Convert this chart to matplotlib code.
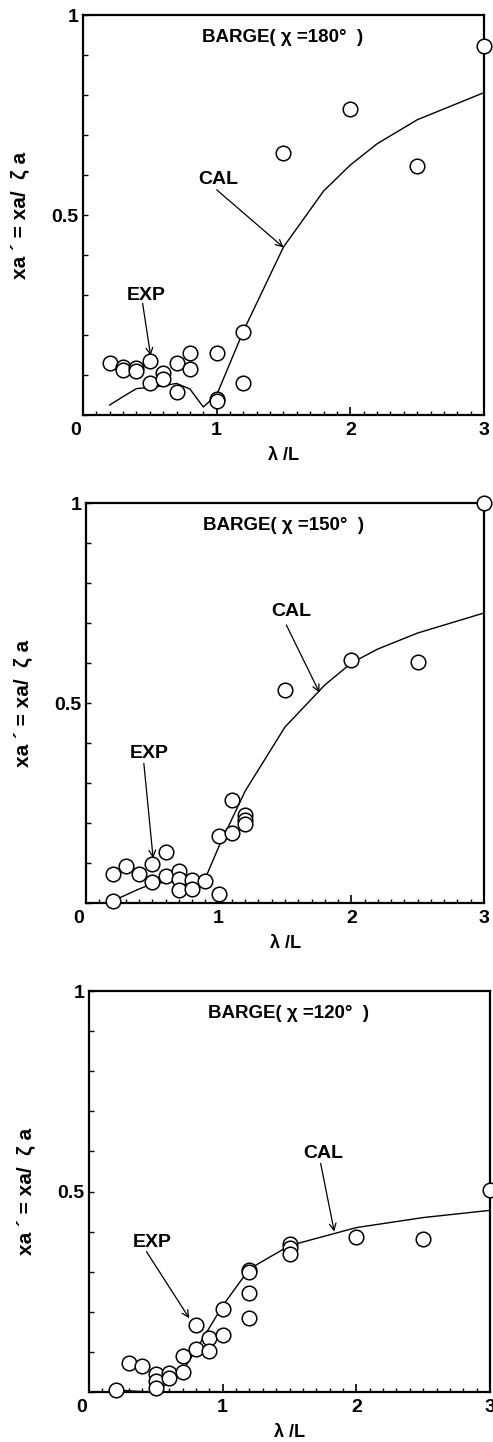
import matplotlib
matplotlib.use("Agg")
import matplotlib.pyplot as plt
import matplotlib.transforms as mtransforms
from matplotlib.ticker import MultipleLocator, FixedLocator

plt.rcParams['font.family'] = ['Liberation Sans', 'DejaVu Sans']

# ---- heading 180 deg ----
lam_180_exp = [0.2, 0.3, 0.3, 0.4, 0.4, 0.5, 0.5, 0.6, 0.6, 0.7, 0.7, 0.8, 0.8,
               1.0, 1.0, 1.0, 1.2, 1.2, 1.5, 2.0, 2.5, 3.0]
xa_180_exp = [0.131, 0.121, 0.112, 0.118, 0.110, 0.135, 0.081, 0.106, 0.090, 0.131, 0.058,
              0.154, 0.114, 0.156, 0.039, 0.034, 0.208, 0.081, 0.656, 0.764, 0.622, 0.922]
lam_180_cal = [0.2, 0.3, 0.4, 0.5, 0.6, 0.7, 0.8, 0.9, 1.0, 1.2, 1.5, 1.8, 2.0, 2.2, 2.5, 3.0]
xa_180_cal = [0.025, 0.046, 0.066, 0.069, 0.073, 0.079, 0.065, 0.020, 0.050, 0.210,
              0.420, 0.560, 0.625, 0.678, 0.738, 0.806]

# ---- heading 150 deg ----
lam_150_exp = [0.2, 0.2, 0.3, 0.4, 0.5, 0.5, 0.6, 0.6, 0.7, 0.7, 0.7, 0.8, 0.8, 0.9,
               1.0, 1.0, 1.1, 1.1, 1.2, 1.2, 1.2, 1.5, 2.0, 2.5, 3.0]
xa_150_exp = [0.073, 0.005, 0.093, 0.073, 0.098, 0.052, 0.127, 0.068, 0.079, 0.060, 0.033,
              0.058, 0.035, 0.056, 0.167, 0.023, 0.258, 0.175, 0.221, 0.208, 0.198,
              0.533, 0.607, 0.602, 1.000]
lam_150_cal = [0.2, 0.3, 0.4, 0.5, 0.6, 0.7, 0.8, 0.9, 1.0, 1.1, 1.2, 1.5, 1.8, 2.0, 2.2, 2.5, 3.0]
xa_150_cal = [0.005, 0.020, 0.035, 0.048, 0.052, 0.056, 0.058, 0.062, 0.140, 0.210, 0.280,
              0.440, 0.545, 0.600, 0.635, 0.675, 0.725]

# ---- heading 120 deg ----
lam_120_exp = [0.2, 0.3, 0.4, 0.5, 0.5, 0.5, 0.6, 0.6, 0.7, 0.7, 0.8, 0.8, 0.9, 0.9,
               1.0, 1.0, 1.2, 1.2, 1.2, 1.2, 1.5, 1.5, 1.5, 2.0, 2.5, 3.0]
xa_120_exp = [0.005, 0.073, 0.066, 0.044, 0.027, 0.011, 0.048, 0.035, 0.050, 0.090,
              0.106, 0.168, 0.135, 0.101, 0.206, 0.143, 0.305, 0.299, 0.248, 0.185,
              0.370, 0.359, 0.345, 0.387, 0.381, 0.503]
lam_120_cal = [0.2, 0.3, 0.45, 0.5, 0.6, 0.7, 0.8, 0.9, 1.0, 1.2, 1.5, 2.0, 2.5, 3.0]
xa_120_cal = [0.005, 0.003, 0.000, 0.005, 0.022, 0.052, 0.105, 0.160, 0.215, 0.307,
              0.365, 0.410, 0.435, 0.453]

headings = ['180', '150', '120']
x_ticks = [0, 1, 2, 3]
x_tick_labels = ['0', '1', '2', '3']
y_ticks = [0, 0.5, 1]
y_tick_labels = ['', '0.5', '1']

panels = [
    dict(exp=(lam_180_exp, xa_180_exp), cal=(lam_180_cal, xa_180_cal),
         rect=[83 / 493, 1 - 415 / 1442, 401 / 493, 400 / 1442],
         cal_txt=(1.01, 0.588), cal_tail=(1.0, 0.563), cal_head=(1.50, 0.419),
         exp_txt=(0.476, 0.300), exp_tail=(0.446, 0.279), exp_head=(0.506, 0.148)),
    dict(exp=(lam_150_exp, xa_150_exp), cal=(lam_150_cal, xa_150_cal),
         rect=[86 / 493, 1 - 903 / 1442, 398 / 493, 400 / 1442],
         cal_txt=(1.55, 0.728), cal_tail=(1.51, 0.695), cal_head=(1.76, 0.526),
         exp_txt=(0.476, 0.374), exp_tail=(0.436, 0.349), exp_head=(0.506, 0.112)),
    dict(exp=(lam_120_exp, xa_120_exp), cal=(lam_120_cal, xa_120_cal),
         rect=[89 / 493, 1 - 1392 / 1442, 401 / 493, 401 / 1442],
         cal_txt=(1.75, 0.595), cal_tail=(1.733, 0.570), cal_head=(1.835, 0.400),
         exp_txt=(0.469, 0.372), exp_tail=(0.43, 0.350), exp_head=(0.75, 0.184)),
]

fig = plt.figure(figsize=(4.93, 14.42), dpi=100)
zero_shift = mtransforms.ScaledTranslation(-7 / 100, 0, fig.dpi_scale_trans)

for hd, p in zip(headings, panels):
    ax = fig.add_axes(p['rect'])
    ax.plot(*p['cal'], color='black', lw=1.0)
    ax.plot(*p['exp'], 'o', ms=10.5, mfc='white', mec='black', mew=1.1,
            clip_on=False, zorder=3)

    ax.set_xlim(0, 3)
    ax.set_ylim(0, 1)
    ax.xaxis.set_major_locator(FixedLocator(x_ticks))
    ax.set_xticklabels(x_tick_labels)
    ax.xaxis.set_minor_locator(MultipleLocator(0.1))
    ax.yaxis.set_major_locator(FixedLocator(y_ticks))
    ax.set_yticklabels(y_tick_labels)
    ax.yaxis.set_minor_locator(MultipleLocator(0.1))
    ax.tick_params(axis='x', which='major', direction='in', length=6, width=1.2,
                   labelsize=14, pad=5)
    ax.tick_params(axis='x', which='minor', direction='in', length=3.2, width=1.0)
    ax.tick_params(axis='y', which='both', direction='in', length=3.8, width=1.0,
                   labelsize=14, pad=3)
    for lab in ax.get_xticklabels() + ax.get_yticklabels():
        lab.set_fontweight('bold')
    first = ax.get_xticklabels()[0]
    first.set_transform(first.get_transform() + zero_shift)
    for s in ax.spines.values():
        s.set_linewidth(1.6)

    ax.set_xlabel('λ /L', fontsize=13, fontweight='bold', labelpad=6)
    ax.set_ylabel('xa ´ = xa/  ζ a', fontsize=15, fontweight='bold', labelpad=16)

    ax.text(1.49, 0.945, 'BARGE( χ =' + hd + '°  )', ha='center', va='center',
            fontsize=13.5, fontweight='bold')

    ax.text(*p['cal_txt'], 'CAL', ha='center', va='center', fontsize=14,
            fontweight='bold')
    ax.annotate('', xy=p['cal_head'], xytext=p['cal_tail'],
                arrowprops=dict(arrowstyle='->', color='black', lw=0.9,
                                mutation_scale=12, shrinkA=0, shrinkB=0))
    ax.text(*p['exp_txt'], 'EXP', ha='center', va='center', fontsize=14,
            fontweight='bold')
    ax.annotate('', xy=p['exp_head'], xytext=p['exp_tail'],
                arrowprops=dict(arrowstyle='->', color='black', lw=0.9,
                                mutation_scale=12, shrinkA=0, shrinkB=0))

fig.savefig('out.png', dpi=100)
